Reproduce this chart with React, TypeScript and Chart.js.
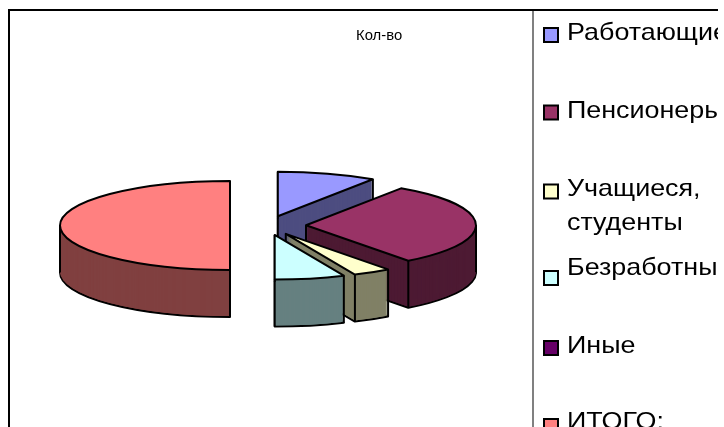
import React, { useEffect, useRef } from "react";
import { Chart, registerables } from "chart.js";

Chart.register(...registerables);

const categories = ["Работающие", "Пенсионеры", "Учащиеся, студенты", "Безработные", "Иные", "ИТОГО:"];
const values = [34, 109, 13, 24, 0, 180];
const topColors = ["#9999ff", "#993366", "#ffffcc", "#ccffff", "#660066", "#ff8080"];
const sideColors = ["#4d4d80", "#4d1a33", "#808066", "#668080", "#330033", "#804040"];
const titleText = "Кол-во";
const legendLines = [["Работающие"], ["Пенсионеры"], ["Учащиеся,", "студенты"], ["Безработные"], ["Иные"], ["ИТОГО:"]];
const legendBoxCenters = [35, 112.5, 191.5, 278, 348, 426];
const legendBaselines = [40, 118, 196, 275, 353, 429];

const TILT = 0.262;
const DEPTH = 47;
const OFFSET_X = 8;
const OFFSET_Y = 9;

function slicePath(ctx: CanvasRenderingContext2D, s: any, dy: number) {
  ctx.beginPath();
  ctx.moveTo(s.cx, s.cy + dy);
  ctx.ellipse(s.cx, s.cy + dy, s.r, s.r * TILT, 0, s.a0, s.a1);
  ctx.closePath();
}

function stretchedText(ctx: CanvasRenderingContext2D, text: string, x: number, y: number, sx: number) {
  ctx.save();
  ctx.translate(x, y);
  ctx.scale(sx, 1);
  ctx.fillText(text, 0, 0);
  ctx.restore();
}

const pie3d = {
  id: "pie3d",
  beforeDatasetDraw(chart: any) {
    const ctx: CanvasRenderingContext2D = chart.ctx;
    const arcs = chart.getDatasetMeta(0).data;
    arcs.forEach((arc: any, i: number) => {
      const p = arc.getProps(["x", "y", "startAngle", "endAngle", "outerRadius"], true);
      if (p.endAngle - p.startAngle <= 0) return;
      const mid = (p.startAngle + p.endAngle) / 2;
      const off = arc.options.offset;
      const s = {
        cx: p.x + Math.cos(mid) * off,
        cy: p.y + Math.sin(mid) * off * TILT,
        r: p.outerRadius,
        a0: p.startAngle,
        a1: p.endAngle,
      };
      ctx.save();
      ctx.lineJoin = "round";
      ctx.lineWidth = 2;
      ctx.strokeStyle = "#000";
      // bottom face
      slicePath(ctx, s, DEPTH);
      ctx.fillStyle = sideColors[i];
      ctx.fill();
      ctx.stroke();
      // extrusion
      for (let d = DEPTH - 1; d >= 0; d--) {
        slicePath(ctx, s, d);
        ctx.fill();
      }
      // vertical edges
      const anglePoints = [s.a0, s.a1];
      for (const extreme of [0, Math.PI, 2 * Math.PI]) {
        if (extreme > s.a0 && extreme < s.a1) anglePoints.push(extreme);
      }
      const pts = anglePoints.map((a) => [s.cx + Math.cos(a) * s.r, s.cy + Math.sin(a) * s.r * TILT]);
      pts.push([s.cx, s.cy]);
      for (const [x, y] of pts) {
        ctx.beginPath();
        ctx.moveTo(x, y);
        ctx.lineTo(x, y + DEPTH);
        ctx.stroke();
      }
      // top face
      slicePath(ctx, s, 0);
      ctx.fillStyle = topColors[i];
      ctx.fill();
      ctx.stroke();
      ctx.restore();
    });
    return false;
  },
  afterDraw(chart: any) {
    const ctx: CanvasRenderingContext2D = chart.ctx;
    ctx.save();
    // frame
    ctx.fillStyle = "#000";
    ctx.fillRect(0, 0, chart.width, 2);
    ctx.fillRect(0, 0, 2, chart.height);
    ctx.fillStyle = "#808080";
    ctx.fillRect(532 - OFFSET_X, 2, 2, chart.height);
    // title
    ctx.fillStyle = "#000";
    ctx.font = "14px 'Liberation Sans'";
    ctx.textAlign = "left";
    ctx.textBaseline = "alphabetic";
    stretchedText(ctx, titleText, 356 - OFFSET_X, 40 - OFFSET_Y, 1.06);
    // legend
    ctx.font = "24px 'Liberation Sans'";
    legendLines.forEach((lines, i) => {
      const y = legendBoxCenters[i] - OFFSET_Y;
      ctx.fillStyle = topColors[i];
      ctx.fillRect(544 - OFFSET_X, y - 7, 14, 14);
      ctx.strokeStyle = "#000";
      ctx.lineWidth = 2;
      ctx.strokeRect(544 - OFFSET_X, y - 7, 14, 14);
      ctx.fillStyle = "#000";
      lines.forEach((line, j) => {
        stretchedText(ctx, line, 567 - OFFSET_X, legendBaselines[i] - OFFSET_Y + j * 34, 1.12);
      });
    });
    ctx.restore();
  },
};

export default function App() {
  const ref = useRef<HTMLCanvasElement>(null);
  useEffect(() => {
    const chart = new Chart(ref.current!, {
      type: "pie",
      data: {
        labels: categories,
        datasets: [
          {
            label: titleText,
            data: values,
            backgroundColor: topColors,
            borderColor: "#000",
            borderWidth: 0,
            offset: [37, 39, 37, 37, 37, 37],
          },
        ],
      },
      options: {
        responsive: false,
        animation: false,
        rotation: 0,
        radius: 170,
        layout: { padding: { left: 0, right: 192, top: 15, bottom: 0 } },
        plugins: { legend: { display: false }, title: { display: false }, tooltip: { enabled: false } },
      },
      plugins: [pie3d],
    } as any);
    return () => chart.destroy();
  }, []);
  return (
    <div style={{ position: "absolute", left: 0, top: 0, width: 724, height: 427, overflow: "hidden", background: "#fff" }}>
      <canvas
        ref={ref}
        width={710}
        height={418}
        style={{ position: "absolute", left: OFFSET_X, top: OFFSET_Y, width: 710, height: 418 }}
      />
    </div>
  );
}
